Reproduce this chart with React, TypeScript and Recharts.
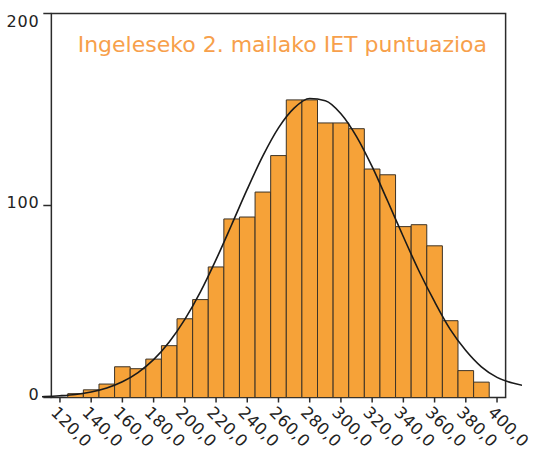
import {
  ComposedChart,
  Bar,
  Line,
  XAxis,
  YAxis,
  ReferenceArea,
} from "recharts";

// histogram bins (centres, width 10) and counts
const bins = [
  130, 140, 150, 160, 170, 180, 190, 200, 210, 220, 230, 240, 250, 260,
  270, 280, 290, 300, 310, 320, 330, 340, 350, 360, 370, 380, 390,
];
const counts = [
  2, 4, 7, 16, 15, 20, 27, 41, 51, 68, 93, 94, 107, 126,
  155, 155, 143, 143, 140, 119, 116, 89, 90, 79, 40, 14, 8,
];

// fitted normal curve
const curveX = [
  100, 110, 120, 130, 140, 150, 160, 170, 180, 190, 200, 210, 220, 230, 240,
  250, 260, 270, 280, 290, 300, 310, 320, 330, 340, 350, 360, 370, 380, 390,
  400, 410, 420,
];
const curveY = [
  0.2, 0.45, 0.9, 1.6, 2.9, 5, 8.2, 13, 19.7, 28.9, 40.7, 55, 71.8, 90, 108.5,
  125.8, 140.4, 150.7, 155.7, 154.6, 147.8, 135.9, 120.2, 102.2, 83.7, 65.9,
  49.9, 35.5, 24.5, 16, 10.5, 7.5, 5.8,
];

const xTicks = [120, 140, 160, 180, 200, 220, 240, 260, 280, 300, 320, 340, 360, 380, 400];
const xTickLabels = [
  "120,0", "140,0", "160,0", "180,0", "200,0", "220,0", "240,0", "260,0",
  "280,0", "300,0", "320,0", "340,0", "360,0", "380,0", "400,0",
];
const yTicks = [0, 100, 200];

const title = "Ingeleseko 2. mailako IET puntuazioa";

const chartData = curveX.map((x, i) => {
  const b = bins.indexOf(x);
  return { x, curve: curveY[i], count: b >= 0 ? counts[b] : null };
});

const FONT = "'DejaVu Sans', sans-serif";

const XTick = (props: any) => {
  const { x, y, payload } = props;
  const label = xTickLabels[xTicks.indexOf(payload.value)];
  const ax = x - 10;
  const ay = y + 11;
  return (
    <text
      x={ax}
      y={ay}
      transform={`rotate(45 ${ax} ${ay})`}
      fontFamily={FONT}
      fontSize={16.5}
      letterSpacing={0.4}
      fill="#222"
      textAnchor="start"
    >
      {label}
    </text>
  );
};

const YTick = (props: any) => {
  const { x, y, payload } = props;
  const ty = Math.max(y - 3, 21);
  return (
    <g>
      <line x1={x + 1.3} x2={x + 9.4} y1={y} y2={y} stroke="#2b2b2b" strokeWidth={1.5} />
      <text
        x={x - 2.5}
        y={ty}
        fontFamily={FONT}
        fontSize={16}
        letterSpacing={0.8}
        fill="#222"
        textAnchor="end"
        dominantBaseline="central"
      >
        {payload.value}
      </text>
    </g>
  );
};

export default function App() {
  return (
    <div style={{ position: "absolute", left: 0, top: 0, width: 533, height: 450, background: "#fff" }}>
      <ComposedChart
        width={533}
        height={450}
        data={chartData}
        margin={{ top: 13.5, right: 11, bottom: 0, left: 0 }}
        barCategoryGap={0}
        barGap={0}
      >
        <XAxis
          dataKey="x"
          type="number"
          domain={[108.5, 416]}
          allowDataOverflow
          ticks={xTicks}
          interval={0}
          height={52.5}
          axisLine={false}
          tickLine={{ stroke: "#2b2b2b", strokeWidth: 1.5 }}
          tickSize={5}
          tickMargin={0}
          tick={<XTick />}
        />
        <YAxis
          type="number"
          domain={[0, 200]}
          ticks={yTicks}
          width={42}
          axisLine={false}
          tickLine={false}
          tickSize={0}
          tickMargin={0}
          tick={<YTick />}
        />
        <Bar
          dataKey="count"
          barSize={15.6}
          fill="#F6A238"
          stroke="#3d3326"
          strokeWidth={1}
          isAnimationActive={false}
        />
        <Line
          dataKey="curve"
          type="monotone"
          stroke="#1a1a1a"
          strokeWidth={1.6}
          dot={false}
          activeDot={false}
          isAnimationActive={false}
        />
        <ReferenceArea
          x1={114.5}
          x2={405.5}
          y1={0}
          y2={200}
          fill="none"
          fillOpacity={0}
          stroke="#2b2b2b"
          strokeWidth={1.5}
        />
      </ComposedChart>
      <div
        style={{
          position: "absolute",
          left: 77.7,
          top: 34,
          fontFamily: FONT,
          fontSize: 22,
          lineHeight: 1,
          color: "#F7A04B",
          whiteSpace: "nowrap",
        }}
      >
        {title}
      </div>
    </div>
  );
}
